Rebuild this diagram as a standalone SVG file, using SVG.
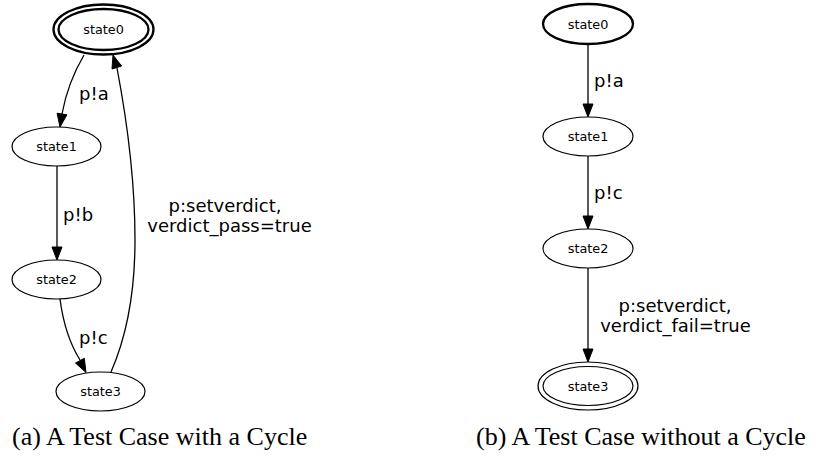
<svg xmlns="http://www.w3.org/2000/svg" width="819" height="456" viewBox="0 0 819 456">
  <style>
    .node { fill: none; stroke: #000; stroke-width: 1.2; }
    .bold { stroke-width: 2.3; }
    .nlabel { font-family: "DejaVu Sans", sans-serif; font-size: 12.8px; fill: #000; text-anchor: middle; }
    .edge { fill: none; stroke: #000; stroke-width: 1.3; }
    .head { fill: #000; stroke: #000; stroke-width: 1; }
    .elabel { font-family: "DejaVu Sans", sans-serif; font-size: 18px; fill: #000; }
    .caption { font-family: "Liberation Serif", serif; font-size: 26px; fill: #000; }
  </style>

  <rect width="819" height="456" fill="#fff"/>

  <!-- (a) graph with a cycle -->
  <g id="a-state0">
    <ellipse class="node bold" cx="103.5" cy="29.5" rx="50" ry="25"/>
    <ellipse class="node bold" cx="103.5" cy="29.5" rx="45" ry="20.5"/>
    <text class="nlabel" x="103.5" y="34">state0</text>
  </g>
  <g id="a-state1">
    <ellipse class="node" cx="56.5" cy="146.5" rx="44.5" ry="19.5"/>
    <text class="nlabel" x="56.5" y="151">state1</text>
  </g>
  <g id="a-state2">
    <ellipse class="node" cx="56.5" cy="279.5" rx="44.5" ry="19.5"/>
    <text class="nlabel" x="56.5" y="284">state2</text>
  </g>
  <g id="a-state3">
    <ellipse class="node" cx="100.5" cy="391.5" rx="44.5" ry="19.5"/>
    <text class="nlabel" x="100.5" y="396">state3</text>
  </g>

  <g id="a-edges">
    <!-- state0 -> state1 -->
    <path class="edge" d="M84,55 C74,72 66,92 62,114"/>
    <polygon class="head" points="66.9,114.8 57.1,113.2 60,127"/>
    <text class="elabel" x="79" y="100">p!a</text>
    <!-- state1 -> state2 -->
    <path class="edge" d="M57,166 L57,247"/>
    <polygon class="head" points="52,247 62,247 57,260"/>
    <text class="elabel" x="63" y="221">p!b</text>
    <!-- state2 -> state3 -->
    <path class="edge" d="M60,299 C63,322 70,344 80,360"/>
    <polygon class="head" points="84.3,358.3 75.5,363 86,372.5"/>
    <text class="elabel" x="79" y="344">p!c</text>
    <!-- state3 -> state0 -->
    <path class="edge" d="M111,372 C125,340 135,300 135,240 C135,170 125,110 117,68"/>
    <polygon class="head" points="121.6,66 112,69 113,55"/>
    <text class="elabel" x="225" y="212" text-anchor="middle">p:setverdict,</text>
    <text class="elabel" x="229.5" y="232" text-anchor="middle">verdict_pass=true</text>
  </g>

  <!-- (b) graph without a cycle -->
  <g id="b-state0">
    <ellipse class="node bold" cx="588" cy="24" rx="45" ry="20"/>
    <text class="nlabel" x="588" y="28.7">state0</text>
  </g>
  <g id="b-state1">
    <ellipse class="node" cx="588" cy="136.5" rx="45" ry="19.5"/>
    <text class="nlabel" x="588" y="141">state1</text>
  </g>
  <g id="b-state2">
    <ellipse class="node" cx="588" cy="248.5" rx="45" ry="19.5"/>
    <text class="nlabel" x="588" y="253">state2</text>
  </g>
  <g id="b-state3">
    <ellipse class="node" cx="588" cy="386" rx="50" ry="24"/>
    <ellipse class="node" cx="588" cy="386" rx="45" ry="19.5"/>
    <text class="nlabel" x="588" y="390.5">state3</text>
  </g>

  <g id="b-edges">
    <!-- state0 -> state1 -->
    <path class="edge" d="M588,44 L588,104"/>
    <polygon class="head" points="583,104 593,104 588,117"/>
    <text class="elabel" x="594" y="87">p!a</text>
    <!-- state1 -> state2 -->
    <path class="edge" d="M588,156 L588,216"/>
    <polygon class="head" points="583,216 593,216 588,229"/>
    <text class="elabel" x="594" y="199">p!c</text>
    <!-- state2 -> state3 -->
    <path class="edge" d="M588,268 L588,349"/>
    <polygon class="head" points="583,349 593,349 588,362"/>
    <text class="elabel" x="675" y="312" text-anchor="middle">p:setverdict,</text>
    <text class="elabel" x="675.5" y="332" text-anchor="middle">verdict_fail=true</text>
  </g>

  <!-- sub-figure captions -->
  <text class="caption" x="12" y="445">(a) A Test Case with a Cycle</text>
  <text class="caption" x="476" y="445">(b) A Test Case without a Cycle</text>
</svg>
